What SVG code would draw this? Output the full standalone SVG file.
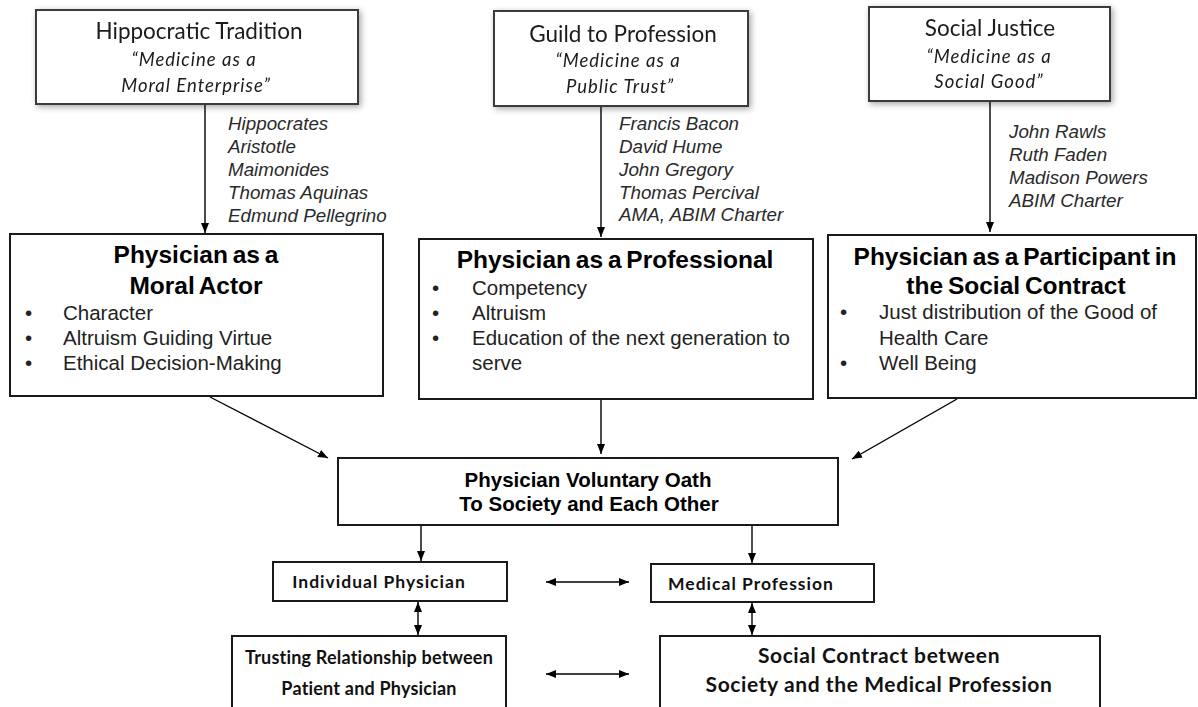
<svg xmlns="http://www.w3.org/2000/svg" width="1198" height="707" viewBox="0 0 1198 707">
<style>
  .bg{fill:#ffffff}
  .tbox{fill:#ffffff;stroke:#3a3a3a;stroke-width:2}
  .box{fill:#ffffff;stroke:#1a1a1a;stroke-width:2}
  .t1{font-family:Lato,"Liberation Sans",sans-serif;font-size:22.5px;fill:#1a1a1a;text-anchor:middle}
  .t1i{font-family:Lato,"Liberation Sans",sans-serif;font-style:italic;font-size:18.5px;letter-spacing:1px;fill:#1a1a1a;text-anchor:middle}
  .names{font-family:"Liberation Sans",Arial,sans-serif;font-style:italic;font-size:18.8px;fill:#2a2a2a}
  .head{font-family:"Liberation Sans",Arial,sans-serif;font-weight:bold;font-size:24.5px;word-spacing:-2px;fill:#000;text-anchor:middle}
  .bul{font-family:"Liberation Sans",Arial,sans-serif;font-size:20.5px;fill:#222}
  .oath{font-family:"Liberation Sans",Arial,sans-serif;font-weight:bold;font-size:20.5px;fill:#000;text-anchor:middle}
  .cb{font-family:Lato,"Liberation Sans",sans-serif;font-weight:bold;fill:#111;text-anchor:middle}
  .sm{font-size:17.5px;letter-spacing:1px}
  .md{font-size:18px;letter-spacing:0.2px}
  .lg{font-size:21px;letter-spacing:0.6px}
  .conn line{stroke:#000;stroke-width:1.4}
</style>
<defs>
  <marker id="ah" viewBox="0 0 10 8" refX="10" refY="4" markerWidth="10" markerHeight="8" markerUnits="userSpaceOnUse" orient="auto-start-reverse">
    <path d="M0,0 L10,4 L0,8 z" fill="#000"/>
  </marker>
  <filter id="glow" x="-10%" y="-20%" width="120%" height="140%">
    <feGaussianBlur in="SourceAlpha" stdDeviation="3"/>
    <feOffset dx="2" dy="2" result="b"/>
    <feFlood flood-color="#000" flood-opacity="0.35"/>
    <feComposite in2="b" operator="in"/>
    <feMerge><feMergeNode/><feMergeNode in="SourceGraphic"/></feMerge>
  </filter>
</defs>
<rect class="bg" x="0" y="0" width="1198" height="707"/>

<g id="connectors" class="conn">
  <line x1="205" y1="104" x2="205" y2="233" marker-end="url(#ah)"/>
  <line x1="601" y1="106" x2="601" y2="237" marker-end="url(#ah)"/>
  <line x1="990" y1="101" x2="990" y2="232" marker-end="url(#ah)"/>
  <line x1="210" y1="397" x2="328" y2="458" marker-end="url(#ah)"/>
  <line x1="601" y1="399" x2="601" y2="454" marker-end="url(#ah)"/>
  <line x1="957" y1="399" x2="852" y2="459" marker-end="url(#ah)"/>
  <line x1="421" y1="525" x2="421" y2="561" marker-end="url(#ah)"/>
  <line x1="752" y1="525" x2="752" y2="563" marker-end="url(#ah)"/>
  <line x1="546" y1="582" x2="629" y2="582" marker-start="url(#ah)" marker-end="url(#ah)"/>
  <line x1="418" y1="602" x2="418" y2="635" marker-start="url(#ah)" marker-end="url(#ah)"/>
  <line x1="752" y1="603" x2="752" y2="635" marker-start="url(#ah)" marker-end="url(#ah)"/>
  <line x1="546" y1="674" x2="629" y2="674" marker-start="url(#ah)" marker-end="url(#ah)"/>
</g>

<g id="hippocratic" filter="url(#glow)">
  <rect class="tbox" x="36" y="10" width="322" height="94"/>
  <text class="t1" x="199" y="39">Hippocratic Tradition</text>
  <text class="t1i" x="194" y="66">“Medicine as a</text>
  <text class="t1i" x="196" y="92">Moral Enterprise”</text>
</g>
<g id="guild" filter="url(#glow)">
  <rect class="tbox" x="494" y="11" width="254" height="95"/>
  <text class="t1" x="623" y="42">Guild to Profession</text>
  <text class="t1i" x="618" y="67">“Medicine as a</text>
  <text class="t1i" x="620" y="93">Public Trust”</text>
</g>
<g id="justice" filter="url(#glow)">
  <rect class="tbox" x="869" y="7" width="241" height="94"/>
  <text class="t1" x="990" y="36">Social Justice</text>
  <text class="t1i" x="989" y="63">“Medicine as a</text>
  <text class="t1i" x="989" y="88">Social Good”</text>
</g>

<g id="names-hippocratic" class="names">
  <text x="228" y="130">Hippocrates</text>
  <text x="228" y="153">Aristotle</text>
  <text x="228" y="176">Maimonides</text>
  <text x="228" y="199">Thomas Aquinas</text>
  <text x="228" y="222">Edmund Pellegrino</text>
</g>
<g id="names-guild" class="names">
  <text x="619" y="130">Francis Bacon</text>
  <text x="619" y="153">David Hume</text>
  <text x="619" y="176">John Gregory</text>
  <text x="619" y="199">Thomas Percival</text>
  <text x="619" y="221">AMA, ABIM Charter</text>
</g>
<g id="names-justice" class="names">
  <text x="1009" y="138">John Rawls</text>
  <text x="1009" y="161">Ruth Faden</text>
  <text x="1009" y="184">Madison Powers</text>
  <text x="1009" y="207">ABIM Charter</text>
</g>

<g id="moral-actor">
  <rect class="box" x="10" y="234" width="373" height="162"/>
  <text class="head" x="196" y="263">Physician as a</text>
  <text class="head" x="196" y="294">Moral Actor</text>
  <g class="bul">
    <text x="25" y="320">•</text><text x="63" y="320">Character</text>
    <text x="25" y="345">•</text><text x="63" y="345">Altruism Guiding Virtue</text>
    <text x="25" y="370">•</text><text x="63" y="370">Ethical Decision-Making</text>
  </g>
</g>
<g id="professional">
  <rect class="box" x="419" y="239" width="394" height="160"/>
  <text class="head" x="615" y="268">Physician as a Professional</text>
  <g class="bul">
    <text x="432" y="295">•</text><text x="472" y="295">Competency</text>
    <text x="432" y="320">•</text><text x="472" y="320">Altruism</text>
    <text x="432" y="345">•</text><text x="472" y="345">Education of the next generation to</text>
    <text x="472" y="370">serve</text>
  </g>
</g>
<g id="participant">
  <rect class="box" x="828" y="235" width="368" height="163"/>
  <text class="head" x="1015" y="265">Physician as a Participant in</text>
  <text class="head" x="1016" y="294">the Social Contract</text>
  <g class="bul">
    <text x="840" y="319">•</text><text x="879" y="319">Just distribution of the Good of</text>
    <text x="879" y="345">Health Care</text>
    <text x="840" y="370">•</text><text x="879" y="370">Well Being</text>
  </g>
</g>

<g id="oath">
  <rect class="box" x="338" y="458" width="500" height="67"/>
  <text class="oath" x="588" y="487">Physician Voluntary Oath</text>
  <text class="oath" x="589" y="511">To Society and Each Other</text>
</g>
<g id="individual">
  <rect class="box" x="273" y="562" width="234" height="39"/>
  <text class="cb sm" x="379" y="588">Individual Physician</text>
</g>
<g id="medical-profession">
  <rect class="box" x="651" y="564" width="223" height="38"/>
  <text class="cb sm" x="751" y="590">Medical Profession</text>
</g>
<g id="trusting">
  <rect class="box" x="232" y="636" width="274" height="90"/>
  <text class="cb md" x="369" y="664">Trusting Relationship between</text>
  <text class="cb md" x="369" y="695">Patient and Physician</text>
</g>
<g id="social-contract">
  <rect class="box" x="660" y="636" width="440" height="90"/>
  <text class="cb lg" x="879" y="663">Social Contract between</text>
  <text class="cb lg" x="879" y="692">Society and the Medical Profession</text>
</g>
</svg>
